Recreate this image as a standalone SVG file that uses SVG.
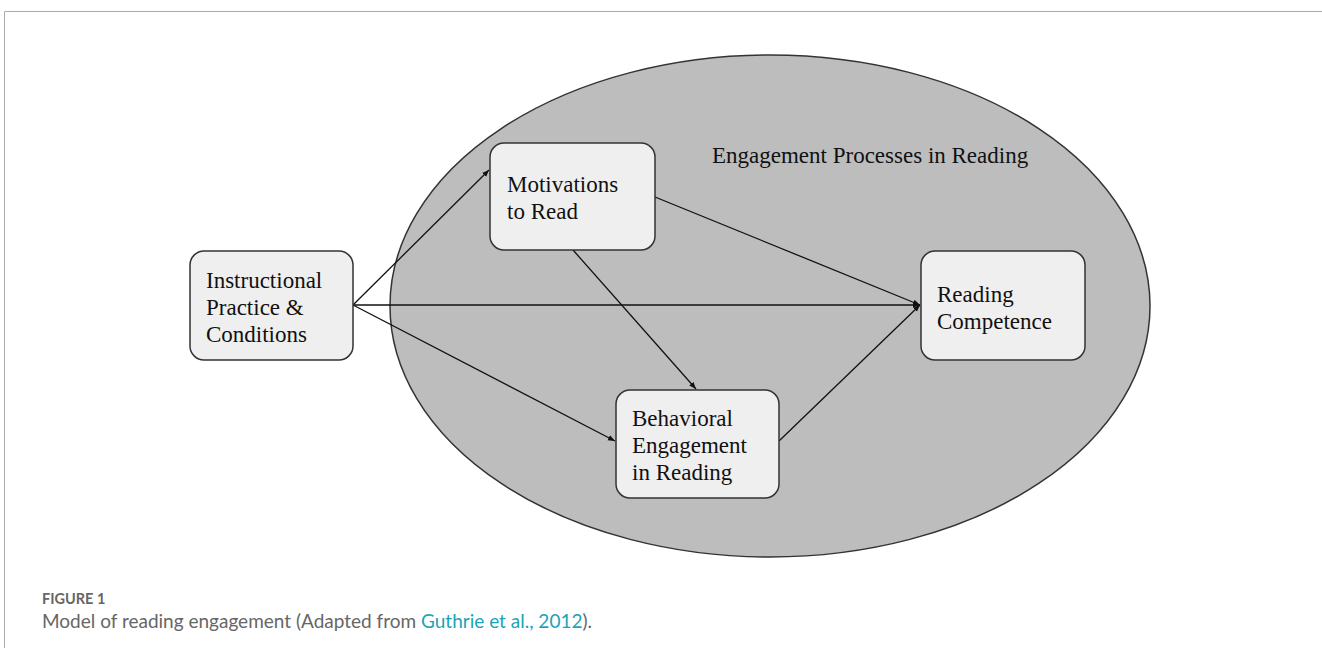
<svg xmlns="http://www.w3.org/2000/svg" width="1322" height="648" viewBox="0 0 1322 648">
<style>
.node rect{fill:#efefef;stroke:#333;stroke-width:1.5}
.node text,.title{font-family:"Liberation Serif",serif;font-size:23px;fill:#111}
.conn line{stroke:#111;stroke-width:1.3;marker-end:url(#ah)}
.cap1{font-family:"Lato","Open Sans",sans-serif;font-size:14.5px;fill:#666;font-weight:bold}
.cap2{font-family:"Lato","Open Sans",sans-serif;font-size:19px;fill:#666}
</style>
<defs>
<marker id="ah" viewBox="0 0 10 10" refX="10" refY="5" markerWidth="7" markerHeight="7" orient="auto" markerUnits="userSpaceOnUse"><path d="M0,1 L10,5 L0,9 z" fill="#111"/></marker>
</defs>
<rect width="1322" height="648" fill="#fff"/>
<path d="M4.5,648 V11.5 H1322" fill="none" stroke="#aaa" stroke-width="1"/>
<g id="ellipse">
<ellipse cx="770" cy="306" rx="380" ry="251" fill="#bdbdbd" stroke="#333" stroke-width="1.5"/>
<text class="title" x="712" y="163">Engagement Processes in Reading</text>
</g>
<g class="conn" id="connectors">
<line x1="353" y1="305" x2="489" y2="170"/>
<line x1="353" y1="305" x2="920" y2="305"/>
<line x1="353" y1="305" x2="615" y2="441"/>
<line x1="573" y1="250" x2="696" y2="389"/>
<line x1="655" y1="197" x2="920" y2="305"/>
<line x1="779" y1="441" x2="920" y2="305"/>
</g>
<g class="node" id="instructional">
<rect x="190" y="251" width="163" height="109" rx="14"/>
<text x="206" y="288">Instructional</text>
<text x="206" y="315">Practice &amp;</text>
<text x="206" y="342">Conditions</text>
</g>
<g class="node" id="motivations">
<rect x="490" y="143" width="165" height="107" rx="14"/>
<text x="507" y="192">Motivations</text>
<text x="507" y="219">to Read</text>
</g>
<g class="node" id="behavioral">
<rect x="616" y="390" width="163" height="108" rx="14"/>
<text x="632" y="426">Behavioral</text>
<text x="632" y="453">Engagement</text>
<text x="632" y="480">in Reading</text>
</g>
<g class="node" id="competence">
<rect x="921" y="251" width="164" height="109" rx="14"/>
<text x="937" y="302">Reading</text>
<text x="937" y="329">Competence</text>
</g>
<text class="cap1" x="42" y="604">FIGURE 1</text>
<text class="cap2" x="42" y="628">Model of reading engagement (Adapted from <tspan fill="#1aa3b8">Guthrie et al., 2012</tspan>).</text>
</svg>
